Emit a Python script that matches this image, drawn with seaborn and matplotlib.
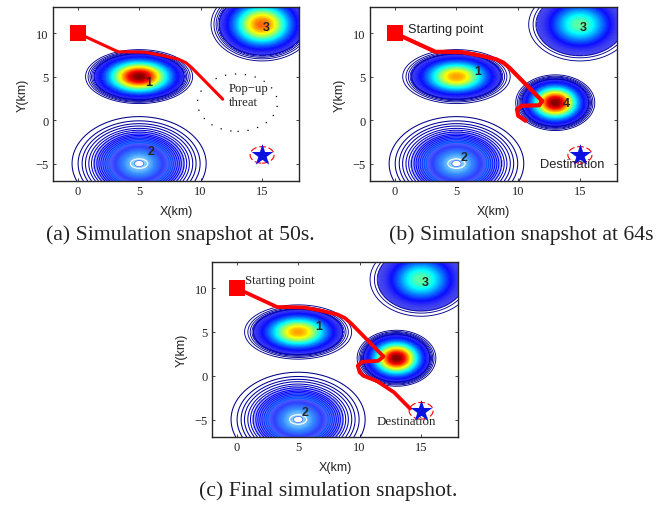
import numpy as np
import pandas as pd
import seaborn as sns
import matplotlib
matplotlib.use('Agg')
import matplotlib.pyplot as plt
from matplotlib.colors import LinearSegmentedColormap
from matplotlib.patches import Ellipse

# threat centres and outer radii (km)
threat_x = [5, 5, 15, 13]
threat_y = [5, -5, 11, 2]
threat_rx = [4.35, 5.45, 4.15, 3.2]
threat_ry = [3.1, 5.4, 4.2, 3.2]
threat_step = [0.008, 0.0045, 0.008, 0.008]
# normalised radius inside which the rings merge into solid colour
threat_fill = [0.84, 0.68, 0.84, 0.84]
# threat 2 has wide, nearly even rings (normalised radii)
big_rings = [1.0, 0.91, 0.85, 0.8, 0.75, 0.71, 0.67, 0.63, 0.6, 0.57, 0.54, 0.51, 0.48, 0.45]

# peak of each threat per panel, None = not shown
peaks_a = [1.0, 0.27, 0.78, None]
peaks_b = [0.72, 0.27, 0.47, 1.0]
peaks_c = [0.72, 0.27, 0.47, 1.0]

path_a_x = [0, 3.3, 4.2, 5.5, 7, 8.2, 8.8, 9.3, 11.8]
path_a_y = [10, 7.85, 7.85, 7.8, 7.4, 7.0, 6.6, 6.0, 2.4]
path_b_x = path_a_x + [11.95, 11.7, 10.3, 9.9, 10, 10.6]
path_b_y = path_a_y + [2.2, 1.7, 1.65, 1.27, 0.5, -0.08]
path_c_x = path_a_x + [11.95, 11.5, 10.2, 9.85, 10, 10.3, 11.4, 12.8, 14.1]
path_c_y = path_a_y + [2.2, 1.7, 1.6, 1.15, 0.4, 0, -0.6, -1.9, -3.75]

start = (0, 10)
dest = (15, -4)

labels_a = {'1': (5.8, 4.4), '2': (5.95, -3.5), '3': (15.3, 10.65)}
labels_b = {'1': (6.7, 5.67), '2': (5.6, -4.2), '3': (15.3, 10.7), '4': (13.9, 2)}
labels_c = {'1': (6.7, 5.63), '2': (5.6, -4.2), '3': (15.3, 10.7)}

captions = ['(a) Simulation snapshot at 50s.', '(b) Simulation snapshot at 64s',
            '(c) Final simulation snapshot.']

# jet, but the low end is washed out like thin rings on white paper
fill_cmap = LinearSegmentedColormap.from_list('fill_jet', [
    (0.0, (0.35, 0.35, 0.9)), (0.06, (0.22, 0.22, 0.95)), (0.125, (0.05, 0.05, 1)), (0.375, (0, 1, 1)),
    (0.625, (1, 1, 0)), (0.875, (1, 0, 0)), (1.0, (0.5, 0, 0))])
# threat 2 is pale at the rim and gets lighter again at the centre
big_cmap = LinearSegmentedColormap.from_list('big_blue', [
    (0.0, (0.72, 0.74, 1)), (0.25, (0.42, 0.45, 1)), (0.55, (0.18, 0.25, 1)), (0.8, (0.2, 0.55, 1)),
    (1.0, (0.55, 0.85, 1))])

sns.set_style('ticks')
W, H = 669, 506
fig = plt.figure(figsize=(W / 100, H / 100), dpi=100)


def make_axes(left, right, top, bottom):
    return fig.add_axes([left / W, 1 - bottom / H, (right - left) / W, (bottom - top) / H])


def draw_threats(ax, peaks):
    xx, yy = np.meshgrid(np.linspace(-2, 18, 700), np.linspace(-7, 13, 700))
    for i, peak in enumerate(peaks):
        if peak is None:
            continue
        d2 = ((xx - threat_x[i]) / threat_rx[i]) ** 2 + ((yy - threat_y[i]) / threat_ry[i]) ** 2
        field = peak * np.exp(-4 * d2)
        solid = peak * np.exp(-4 * threat_fill[i] ** 2)
        # solid part in the middle, separate rings only towards the edge
        if i == 1:
            ax.contourf(xx, yy, field, levels=np.linspace(solid, peak, 60), cmap=big_cmap)
            levels = peak * np.exp(-4 * np.array(big_rings) ** 2)
            ax.contour(xx, yy, field, levels=levels, cmap='jet', vmin=0, vmax=0.55, linewidths=0.75)
        else:
            ax.contourf(xx, yy, field, levels=np.linspace(solid, peak, 60), cmap=fill_cmap, vmin=0, vmax=1)
            levels = np.arange(peak * np.exp(-4), peak, threat_step[i])
            ax.contour(xx, yy, field, levels=levels[levels < solid * 1.1], cmap='jet', vmin=0, vmax=1,
                       linewidths=0.65)
    # white core of the big threat
    ax.add_patch(Ellipse((threat_x[1], threat_y[1]), 1.4, 1.1, fc='none', ec='white', lw=0.8, zorder=3))
    ax.add_patch(Ellipse((threat_x[1], threat_y[1]), 0.75, 0.7, fc='white', ec='#4060ff', lw=0.5, zorder=3))


def draw_panel(ax, peaks, px, py, lw, labels):
    draw_threats(ax, peaks)
    ax.add_patch(Ellipse(dest, 1.95, 1.9, fc='none', ec='red', lw=0.8, ls=(0, (6, 2.5)), zorder=3))
    df = pd.DataFrame({'x': px, 'y': py})
    sns.lineplot(data=df, x='x', y='y', sort=False, color='red', lw=lw, ax=ax, zorder=4, estimator=None)
    sns.scatterplot(x=[start[0]], y=[start[1]], marker='s', s=120, color='red', linewidth=0, ax=ax, zorder=5)
    sns.scatterplot(x=[dest[0]], y=[dest[1]], marker='*', s=270, color='#0a10e0', linewidth=0, ax=ax, zorder=5)
    for name, (tx, ty) in labels.items():
        ax.text(tx, ty, name, fontsize=9, fontweight='bold', family='Liberation Sans',
                ha='center', va='center', zorder=6)
    ax.set_xlim(-2, 18)
    ax.set_ylim(-7, 13)
    ax.set_xticks([0, 5, 10, 15])
    ax.set_yticks([-5, 0, 5, 10])
    ax.tick_params(direction='in', top=True, right=True, length=2.5, width=0.6, labelsize=9, pad=3,
                   labelcolor='#222222')
    for lab in ax.get_xticklabels() + ax.get_yticklabels():
        lab.set_family('Liberation Serif')
    ax.set_xlabel('X(km)', fontsize=9, family='Liberation Sans', labelpad=5.5, color='#222222')
    ax.set_ylabel('Y(km)', fontsize=9, family='Liberation Sans', labelpad=5, color='#222222')
    for s in ax.spines.values():
        s.set_linewidth(1.0)


ax_a = make_axes(53, 299, 8, 182)
ax_b = make_axes(370, 617, 8, 182)
ax_c = make_axes(212, 458, 263, 438)

draw_panel(ax_a, peaks_a, path_a_x, path_a_y, 2.2, labels_a)
draw_panel(ax_b, peaks_b, path_b_x, path_b_y, 3.0, labels_b)
draw_panel(ax_c, peaks_c, path_c_x, path_c_y, 2.7, labels_c)

# pop-up threat outline only shows in the first panel
ax_a.add_patch(Ellipse((13, 2), 6.5, 6.6, fc='none', ec='black', lw=0.9, ls=(0, (1, 7))))
ax_a.text(12.3, 2.85, 'Pop\u2212up\nthreat', fontsize=9.2, family='Liberation Serif', va='center',
          linespacing=1.25, color='#222222')
ax_b.text(1.1, 10.45, 'Starting point', fontsize=9.2, family='Liberation Sans', va='center', color='#222222')
ax_b.text(11.75, -5.1, 'Destination', fontsize=9.3, family='Liberation Sans', va='center', color='#222222')
ax_c.text(0.65, 10.9, 'Starting point', fontsize=9.2, family='Liberation Serif', va='center', color='#222222')
ax_c.text(11.35, -5.15, 'Destination', fontsize=9.4, family='Liberation Serif', va='center', color='#222222')

for cx, cy, cap in zip([180, 521, 328], [235, 235, 491], captions):
    fig.text(cx / W, 1 - cy / H, cap, fontsize=15.7, family='Liberation Serif', ha='center', va='center',
             color='#222222')

fig.savefig('out.png', dpi=100)
